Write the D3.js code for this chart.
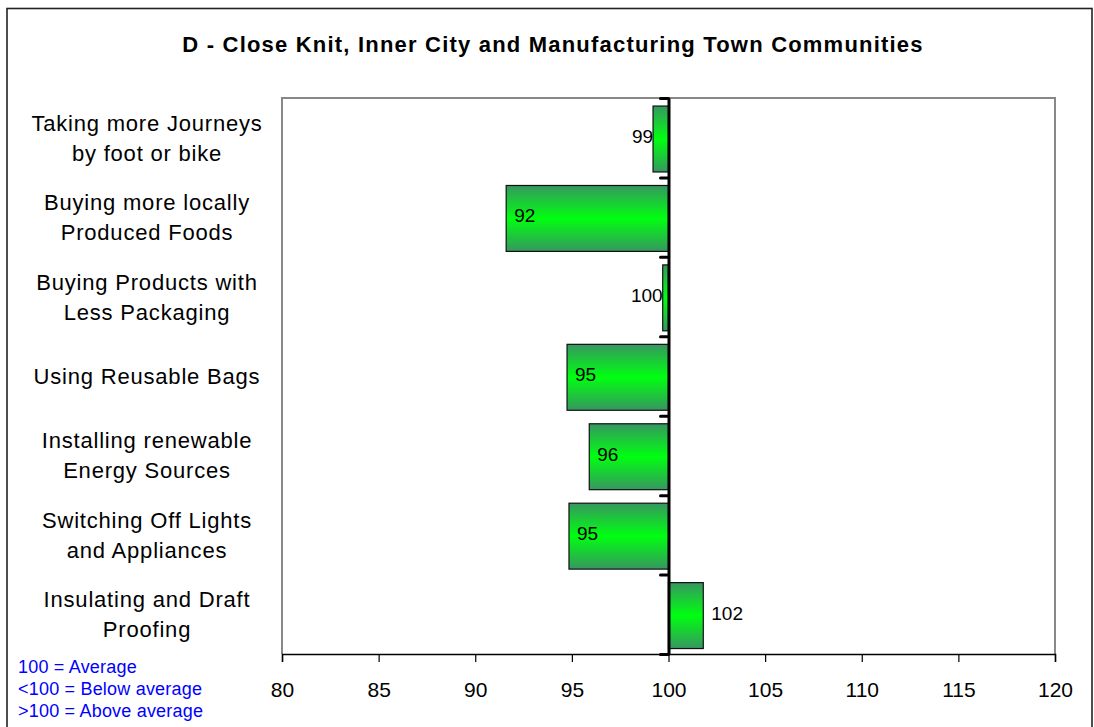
<!DOCTYPE html>
<html>
<head>
<meta charset="utf-8">
<script src="https://cdn.jsdelivr.net/npm/d3@7"></script>
<style>
  html, body { margin: 0; padding: 0; background: #fff; }
  svg { display: block; font-family: "Liberation Sans", Arial, Helvetica, sans-serif; }
</style>
</head>
<body>
<svg id="chart" width="1094" height="727"></svg>
<script>
// Behaviour-change index by action (100 = average)
const categories = [
  ["Taking more Journeys", "by foot or bike"],
  ["Buying more locally", "Produced Foods"],
  ["Buying Products with", "Less Packaging"],
  ["Using Reusable Bags"],
  ["Installing renewable", "Energy Sources"],
  ["Switching Off Lights", "and Appliances"],
  ["Insulating and Draft", "Proofing"]
];
const indexValues = [99.2, 91.6, 99.7, 94.75, 95.9, 94.85, 101.8];
const xTicks = [80, 85, 90, 95, 100, 105, 110, 115, 120];
const titleText = "D - Close Knit, Inner City and Manufacturing Town Communities";
const noteLines = ["100 = Average", "<100 = Below average", ">100 = Above average"];
const baseline = 100;

const svg = d3.select("#chart");
const W = 1094, H = 727;
const plot = { left: 282, right: 1055, top: 98, bottom: 654 };

svg.append("rect").attr("width", W).attr("height", H).attr("fill", "#fff");

// outer chart frame
svg.append("rect")
  .attr("x", 7).attr("y", 8.5)
  .attr("width", 1085).attr("height", 740)
  .attr("fill", "none").attr("stroke", "#222").attr("stroke-width", 1.6);

// title
svg.append("text")
  .attr("x", 553).attr("y", 52)
  .attr("text-anchor", "middle")
  .attr("font-size", 22).attr("font-weight", "bold")
  .attr("letter-spacing", 1.2)
  .text(titleText);

const x = d3.scaleLinear().domain([xTicks[0], xTicks[xTicks.length - 1]])
  .range([plot.left, plot.right]);

const keys = categories.map((c, i) => i);
const y = d3.scaleBand().domain(keys)
  .range([plot.top + 1.3, plot.bottom + 1.3])
  .paddingInner(0.17).paddingOuter(0.085);

// slot scale for category boundaries and label centres
const slot = d3.scaleLinear().domain([0, categories.length]).range([plot.top, plot.bottom]);

// plot frame (top, left, right)
svg.append("path")
  .attr("d", `M${plot.left},${plot.bottom}V${plot.top}H${plot.right}V${plot.bottom}`)
  .attr("fill", "none").attr("stroke", "#888").attr("stroke-width", 2);

// gradient fill for bars
const defs = svg.append("defs");
const grad = defs.append("linearGradient").attr("id", "barFill")
  .attr("x1", 0).attr("y1", 0).attr("x2", 0).attr("y2", 1);
grad.append("stop").attr("offset", "0%").attr("stop-color", "#379660");
grad.append("stop").attr("offset", "50%").attr("stop-color", "#00ff10");
grad.append("stop").attr("offset", "100%").attr("stop-color", "#379660");

// bars
svg.append("g").selectAll("rect")
  .data(indexValues)
  .join("rect")
  .attr("x", d => Math.min(x(d), x(baseline)))
  .attr("y", (d, i) => y(i))
  .attr("width", d => Math.abs(x(d) - x(baseline)))
  .attr("height", y.bandwidth())
  .attr("fill", "url(#barFill)")
  .attr("stroke", "#111").attr("stroke-width", 1.2);

// value labels
const fmt = d3.format(".0f");
svg.append("g").selectAll("text")
  .data(indexValues)
  .join("text")
  .attr("font-size", 19)
  .attr("fill", "#000")
  .attr("y", (d, i) => y(i) + y.bandwidth() / 2 + 4)
  .each(function (d) {
    const t = d3.select(this);
    const w = Math.abs(x(d) - x(baseline));
    if (d > baseline) {
      t.attr("x", x(d) + 8).attr("text-anchor", "start");
    } else if (w > 40) {
      t.attr("x", x(d) + 8).attr("text-anchor", "start");
    } else {
      t.attr("x", x(d)).attr("text-anchor", "end");
    }
  })
  .text(d => fmt(d));

// bottom value axis
const xAxis = svg.append("g")
  .attr("transform", `translate(0,${plot.bottom})`)
  .call(d3.axisBottom(x).tickValues(xTicks).tickSize(8).tickSizeOuter(8).tickPadding(20));
xAxis.select(".domain").attr("stroke", "#000").attr("stroke-width", 1.5);
xAxis.selectAll(".tick line").attr("stroke", "#000").attr("stroke-width", 1.2);
xAxis.selectAll(".tick text")
  .attr("font-size", 21).attr("fill", "#000")
  .attr("font-family", "'Liberation Sans', Arial, sans-serif");

// category axis at the average line
const catAxis = svg.append("g")
  .attr("transform", `translate(${x(baseline)},0)`)
  .call(d3.axisLeft(slot).tickValues(d3.range(categories.length + 1))
    .tickFormat("").tickSize(8).tickSizeOuter(0));
catAxis.select(".domain").attr("stroke", "#000").attr("stroke-width", 3);
catAxis.selectAll(".tick line").attr("stroke", "#000").attr("stroke-width", 3)
  .attr("stroke-linecap", "round");

// category labels
const catG = svg.append("g");
categories.forEach((lines, i) => {
  const cy = slot(i + 0.5);
  const t = catG.append("text")
    .attr("text-anchor", "middle")
    .attr("font-size", 22)
    .attr("letter-spacing", 0.8)
    .attr("fill", "#000");
  const n = lines.length;
  lines.forEach((ln, k) => {
    t.append("tspan")
      .attr("x", 147)
      .attr("y", cy + 8 + (k - (n - 1) / 2) * 30)
      .text(ln);
  });
});

// legend note
svg.append("g").selectAll("text")
  .data(noteLines)
  .join("text")
  .attr("x", 18)
  .attr("y", (d, i) => 673 + i * 22)
  .attr("font-size", 18)
  .attr("letter-spacing", 0.2)
  .attr("fill", "#0000ff")
  .text(d => d);
</script>
</body>
</html>
